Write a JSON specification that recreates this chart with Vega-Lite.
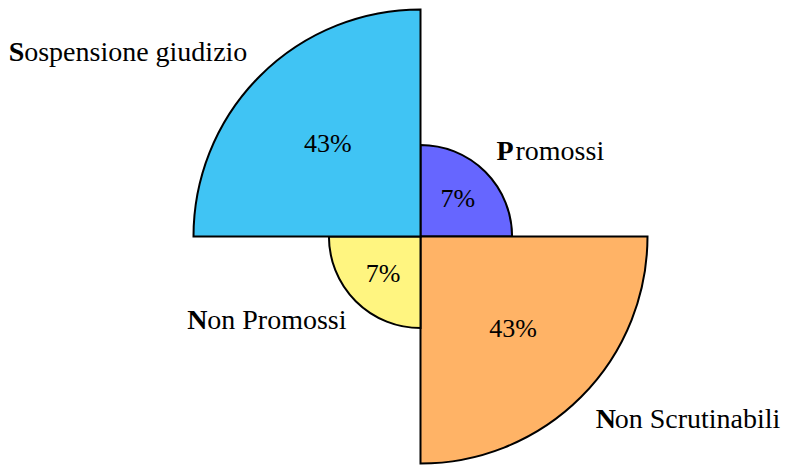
{
  "$schema": "https://vega.github.io/schema/vega-lite/v6.json",
  "width": 745,
  "height": 457,
  "autosize": {"type": "none"},
  "padding": {"left": 48, "top": 8, "right": 0, "bottom": 0},
  "background": "white",
  "config": {"view": {"stroke": null}, "text": {"font": "Liberation Serif"}},
  "data": {
    "values": [
      {"category": "Promossi", "value": 7, "angle": 25, "order": 1, "pct": "7%", "initial": "P", "rest": "romossi", "side": "right"},
      {"category": "Non Scrutinabili", "value": 43, "angle": 25, "order": 2, "pct": "43%", "initial": "N", "rest": "on Scrutinabili", "side": "right"},
      {"category": "Non Promossi", "value": 7, "angle": 25, "order": 3, "pct": "7%", "initial": "N", "rest": "on Promossi", "side": "left"},
      {"category": "Sospensione giudizio", "value": 43, "angle": 25, "order": 4, "pct": "43%", "initial": "S", "rest": "ospensione giudizio", "side": "left"}
    ]
  },
  "transform": [
    {"stack": "angle", "groupby": [], "sort": [{"field": "order", "order": "ascending"}], "as": ["a0", "a1"]}
  ],
  "layer": [
    {
      "mark": {"type": "arc", "stroke": "black", "strokeWidth": 2, "strokeJoin": "miter"},
      "encoding": {
        "theta": {"field": "a0", "type": "quantitative", "scale": {"domain": [0, 100]}},
        "theta2": {"field": "a1"},
        "radius": {"field": "value", "type": "quantitative", "scale": {"type": "sqrt", "domain": [0, 43], "range": [0, 227]}},
        "color": {"field": "category", "type": "nominal", "legend": null,
          "scale": {"domain": ["Promossi", "Non Scrutinabili", "Non Promossi", "Sospensione giudizio"],
                    "range": ["#6666FF", "#FFB366", "#FFF580", "#40C4F4"]}}
      }
    },
    {
      "mark": {"type": "text", "font": "Liberation Serif", "fontSize": 26, "color": "black", "align": "center", "baseline": "middle", "thetaOffset": 0.7854},
      "encoding": {
        "theta": {"field": "a0", "type": "quantitative", "scale": {"domain": [0, 100]}},
        "radius": {"field": "value", "type": "quantitative", "scale": {"type": "sqrt", "domain": [0, 43], "range": [0, 131]}},
        "text": {"field": "pct", "type": "nominal"}
      }
    },
    {
      "mark": {"type": "text", "font": "Liberation Serif", "fontSize": 28, "fontWeight": "bold", "color": "black", "align": "left", "baseline": "middle", "radiusOffset": 24, "thetaOffset": 0.7854, "dx": -8},
      "encoding": {
        "theta": {"field": "a0", "type": "quantitative", "scale": {"domain": [0, 100]}},
        "radius": {"field": "value", "type": "quantitative", "scale": {"type": "sqrt", "domain": [0, 43], "range": [0, 235]}},
        "text": {"field": "initial", "type": "nominal"},
        "opacity": {"condition": {"test": "datum.side == 'right'", "value": 1}, "value": 0}
      }
    },
    {
      "mark": {"type": "text", "font": "Liberation Serif", "fontSize": 28, "color": "black", "align": "left", "baseline": "middle", "radiusOffset": 24, "thetaOffset": 0.7854, "dx": 11},
      "encoding": {
        "theta": {"field": "a0", "type": "quantitative", "scale": {"domain": [0, 100]}},
        "radius": {"field": "value", "type": "quantitative", "scale": {"type": "sqrt", "domain": [0, 43], "range": [0, 235]}},
        "text": {"field": "rest", "type": "nominal"},
        "opacity": {"condition": {"test": "datum.side == 'right'", "value": 1}, "value": 0}
      }
    },
    {
      "mark": {"type": "text", "font": "Liberation Serif", "fontSize": 28, "color": "black", "align": "right", "baseline": "middle", "radiusOffset": 24, "thetaOffset": 0.7854, "dx": 10},
      "encoding": {
        "theta": {"field": "a0", "type": "quantitative", "scale": {"domain": [0, 100]}},
        "radius": {"field": "value", "type": "quantitative", "scale": {"type": "sqrt", "domain": [0, 43], "range": [0, 235]}},
        "text": {"field": "rest", "type": "nominal"},
        "opacity": {"condition": {"test": "datum.side == 'left'", "value": 1}, "value": 0}
      }
    },
    {
      "mark": {"type": "text", "font": "Liberation Serif", "fontSize": 28, "fontWeight": "bold", "color": "black", "align": "right", "baseline": "middle", "radiusOffset": 24, "thetaOffset": 0.7854, "dx": -213},
      "encoding": {
        "theta": {"field": "a0", "type": "quantitative", "scale": {"domain": [0, 100]}},
        "radius": {"field": "value", "type": "quantitative", "scale": {"type": "sqrt", "domain": [0, 43], "range": [0, 235]}},
        "text": {"field": "initial", "type": "nominal"},
        "opacity": {"condition": {"test": "datum.category == 'Sospensione giudizio'", "value": 1}, "value": 0}
      }
    },
    {
      "mark": {"type": "text", "font": "Liberation Serif", "fontSize": 28, "fontWeight": "bold", "color": "black", "align": "right", "baseline": "middle", "radiusOffset": 24, "thetaOffset": 0.7854, "dx": -129},
      "encoding": {
        "theta": {"field": "a0", "type": "quantitative", "scale": {"domain": [0, 100]}},
        "radius": {"field": "value", "type": "quantitative", "scale": {"type": "sqrt", "domain": [0, 43], "range": [0, 235]}},
        "text": {"field": "initial", "type": "nominal"},
        "opacity": {"condition": {"test": "datum.category == 'Non Promossi'", "value": 1}, "value": 0}
      }
    }
  ],
  "resolve": {"scale": {"radius": "independent"}}
}
